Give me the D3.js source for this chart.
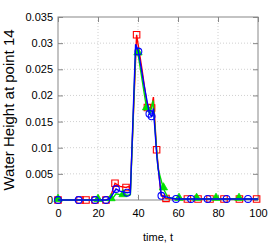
<!DOCTYPE html>
<html><head><meta charset="utf-8">
<script src="https://cdn.jsdelivr.net/npm/d3@7"></script>
<style>body{margin:0;background:#fff}svg{display:block}text{font-family:"Liberation Sans",Arial,sans-serif;fill:#000}</style>
</head><body><svg id="c" width="274" height="249"></svg>
<script>
const xTicks=[0,20,40,60,80,100];
const yTicks=[0,0.005,0.01,0.015,0.02,0.025,0.03,0.035];
const yTickLabels=["0","0.005","0.01","0.015","0.02","0.025","0.03","0.035"];
const xLabel="time, t";
const yLabel="Water Height at point 14";
// red series (squares)
const redT=[0,11,14,18.5,24,26,28.5,31,34,35.5,36.2,39.3,42,44.7,46.8,47.7,49.3,51.5,54,64.7,70,76,83,90.7,100];
const redH=[0,0,0,0,0,0.0003,0.0032,0.0026,0.0024,0.0026,0.002,0.0316,0.025,0.0177,0.0176,0.0197,0.0096,0.001,0.0003,0.0002,0.0002,0.0002,0.0002,0.0002,0.0002];
const redM=[0,11,14,18.5,24,28.5,34,39.3,44.7,46.8,49.3,54,64.7,70,76,83,90.7,99.3];
// green series (triangles)
const greenT=[0,12.5,19.7,26,27.5,29,32.5,35,36.2,38.8,40,44.3,46,47.5,50,52.7,55,60.5,69.3,79,90.5,100];
const greenH=[0,0,0,0,0.0004,0.0012,0.0009,0.0009,0.001,0.0285,0.028,0.0175,0.0165,0.019,0.006,0.0022,0.0004,0.0002,0.0002,0.0002,0.0002,0.0002];
const greenM=[0,20,26.5,32.5,40,44.3,52.7,60.5,69.3,79,90.5];
// blue series (circles)
const blueT=[0,10.3,18.5,24,26,29,31,34.5,36.2,38.8,40.2,43,45.7,46.8,47.7,49.5,51.7,59,66.5,74.8,84.3,95,100];
const blueH=[0,0,0,0,0.0003,0.0021,0.0017,0.0014,0.0015,0.0298,0.0284,0.022,0.0165,0.016,0.0175,0.008,0.0008,0.0002,0.0002,0.0002,0.0002,0.0002,0.0002];
const blueM=[0,10.3,18.5,24,29,34.5,40.2,45.7,46.8,51.7,59,66.5,74.8,84.3,95];

const svg=d3.select("#c");
const L=58,R=258,T=17,B=200;
const x=d3.scaleLinear().domain([0,100]).range([L,R]);
const y=d3.scaleLinear().domain([0,0.035]).range([B,T]);
const g=svg.append("g");
// grid
g.selectAll(".gx").data(xTicks.slice(1,-1)).join("line").attr("x1",d=>x(d)).attr("x2",d=>x(d)).attr("y1",T).attr("y2",B).attr("stroke","#d0d0d0").attr("stroke-dasharray","1,2");
g.selectAll(".gy").data(yTicks.slice(1,-1)).join("line").attr("y1",d=>y(d)).attr("y2",d=>y(d)).attr("x1",L).attr("x2",R).attr("stroke","#d0d0d0").attr("stroke-dasharray","1,2");
// axes
const ax=d3.axisBottom(x).tickValues(xTicks).tickSizeInner(-5).tickSizeOuter(0).tickPadding(9);
const axT=d3.axisTop(x).tickValues(xTicks).tickSizeInner(-5).tickSizeOuter(0).tickFormat("");
const ay=d3.axisLeft(y).tickValues(yTicks).tickSizeInner(-5).tickSizeOuter(0).tickPadding(5).tickFormat((d,i)=>yTickLabels[i]);
const ayR=d3.axisRight(y).tickValues(yTicks).tickSizeInner(-5).tickSizeOuter(0).tickFormat("");
function style(sel){sel.selectAll("path").remove();sel.selectAll("line").attr("stroke","#888");sel.selectAll("text").attr("font-size","11px").attr("fill","#000").attr("font-family","Liberation Sans, Arial, sans-serif");}
svg.append("g").attr("transform",`translate(0,${B})`).call(ax).call(style);
svg.append("g").attr("transform",`translate(0,${T})`).call(axT).call(style);
svg.append("g").attr("transform",`translate(${L},0)`).call(ay).call(style);
svg.append("g").attr("transform",`translate(${R},0)`).call(ayR).call(style);
svg.append("rect").attr("x",L).attr("y",T).attr("width",R-L).attr("height",B-T).attr("fill","none").attr("stroke","#888").attr("stroke-width",1);

const line=d3.line().x(d=>x(d[0])).y(d=>y(d[1]));
function interp(ts,hs,t){for(let i=0;i<ts.length-1;i++){if(t>=ts[i]&&t<=ts[i+1]){const f=(t-ts[i])/(ts[i+1]-ts[i]);return hs[i]+f*(hs[i+1]-hs[i]);}}return hs[hs.length-1];}
const series=[
 {t:redT,h:redH,m:redM,c:"#ff0000",type:"sq"},
 {t:greenT,h:greenH,m:greenM,c:"#00e000",type:"tri"},
 {t:blueT,h:blueH,m:blueM,c:"#0000ff",type:"circ"}];
const sq=d3.symbol().type(d3.symbolSquare).size(42);
const tri=d3.symbol().type(d3.symbolTriangle).size(30);
series.forEach(s=>{
  const pts=s.t.map((t,i)=>[t,s.h[i]]);
  svg.append("path").datum(pts).attr("d",line).attr("fill","none").attr("stroke",s.c).attr("stroke-width",1.4);
  const mk=s.m.map(t=>[t,interp(s.t,s.h,t)]);
  const gg=svg.append("g");
  if(s.type==="sq") gg.selectAll("path").data(mk).join("path").attr("d",sq).attr("transform",d=>`translate(${x(d[0])},${y(d[1])})`).attr("fill","none").attr("stroke",s.c).attr("stroke-width",1.1);
  if(s.type==="tri") gg.selectAll("path").data(mk).join("path").attr("d",tri).attr("transform",d=>`translate(${x(d[0])},${y(d[1])-1})`).attr("fill",s.c).attr("stroke",s.c).attr("stroke-width",0.8);
  if(s.type==="circ") gg.selectAll("circle").data(mk).join("circle").attr("cx",d=>x(d[0])).attr("cy",d=>y(d[1])).attr("r",3.4).attr("fill","none").attr("stroke",s.c).attr("stroke-width",1.1);
});
svg.append("text").attr("x",x(50)).attr("y",241).attr("text-anchor","middle").attr("font-size","11px").text(xLabel);
svg.append("text").attr("transform",`translate(14,110) rotate(-90)`).attr("text-anchor","middle").attr("font-size","15px").text(yLabel);
</script></body></html>
